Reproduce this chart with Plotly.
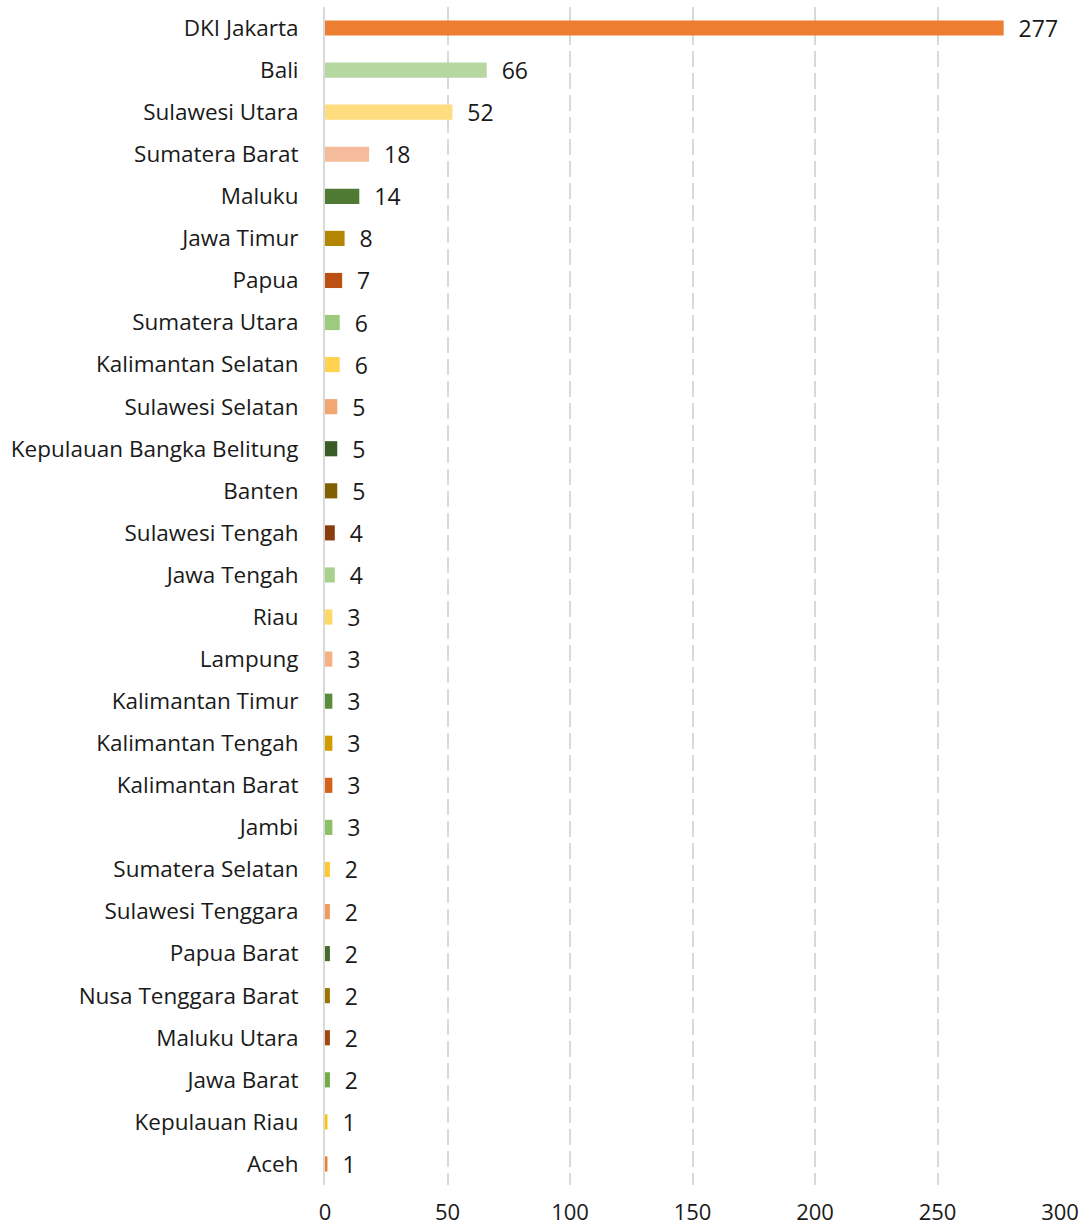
import plotly.graph_objects as go

provinces = ["DKI Jakarta", "Bali", "Sulawesi Utara", "Sumatera Barat", "Maluku",
             "Jawa Timur", "Papua", "Sumatera Utara", "Kalimantan Selatan",
             "Sulawesi Selatan", "Kepulauan Bangka Belitung", "Banten",
             "Sulawesi Tengah", "Jawa Tengah", "Riau", "Lampung",
             "Kalimantan Timur", "Kalimantan Tengah", "Kalimantan Barat", "Jambi",
             "Sumatera Selatan", "Sulawesi Tenggara", "Papua Barat",
             "Nusa Tenggara Barat", "Maluku Utara", "Jawa Barat",
             "Kepulauan Riau", "Aceh"]
cases = [277, 66, 52, 18, 14, 8, 7, 6, 6, 5, 5, 5, 4, 4, 3, 3, 3, 3, 3, 3,
         2, 2, 2, 2, 2, 2, 1, 1]
colors = ["#ED7D31", "#B7D7A0", "#FFDC7E", "#F4BC9A", "#4E7A34", "#B38600",
          "#BA5112", "#9CCB7E", "#FFD34F", "#F2A674", "#3A5B27", "#806000",
          "#8A3C0E", "#A9D18E", "#FFD966", "#F5B183", "#5B8C3C", "#D29C00",
          "#D5621B", "#8CC068", "#FFC830", "#F19A5E", "#446B2E", "#997300",
          "#A24610", "#70AD47", "#FFC000", "#ED7D31"]
x_ticks = [0, 50, 100, 150, 200, 250, 300]

font_family = "Open Sans, Noto Sans, sans-serif"
FS = 22.5
FN = 23

fig = go.Figure(go.Bar(
    x=cases, y=provinces, orientation="h",
    marker=dict(color=colors, line=dict(width=0)),
    text=[str(v) for v in cases],
    texttemplate="\u00a0\u00a0%{text}",
    textposition="outside", constraintext="none",
    textfont=dict(size=FN, color="#1a1a1a", family=font_family),
    cliponaxis=False,
))

fig.update_layout(
    width=1085, height=1229,
    margin=dict(l=325, r=25, t=7, b=44, autoexpand=False),
    paper_bgcolor="white", plot_bgcolor="white",
    bargap=0.64,
    showlegend=False,
    font=dict(family=font_family, size=FS, color="#1a1a1a"),
    xaxis=dict(range=[0, 300], tickvals=x_ticks, showgrid=True,
               gridcolor="#D9D9D9", gridwidth=2, griddash="16px,6px",
               zeroline=False, showline=False, ticks="",
               ticklabelstandoff=12, automargin=False,
               tickfont=dict(size=22, family=font_family, color="#1a1a1a")),
    yaxis=dict(categoryorder="array", categoryarray=provinces[::-1],
               autorange=False, range=[-0.5, len(provinces) - 0.5],
               showline=True, linecolor="#D9D9D9", linewidth=2,
               showgrid=False, ticks="", ticklabelstandoff=20, automargin=False,
               tickfont=dict(size=FS, family=font_family, color="#1a1a1a")),
)

fig.write_html("out.html", config={"displayModeBar": False},
               post_script="document.body.style.margin='0';document.body.style.padding='0';")
